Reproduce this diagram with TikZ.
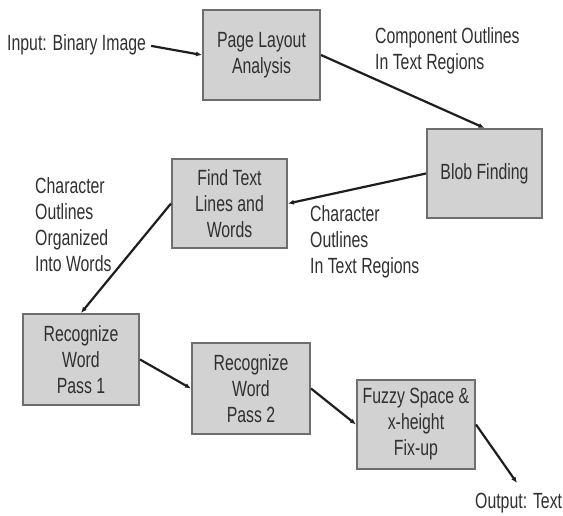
\documentclass[tikz,border=0pt]{standalone}
\usepackage{fontspec}
\setmainfont{Liberation Sans}[FakeStretch=0.72]
\usetikzlibrary{arrows.meta}
\definecolor{boxfill}{HTML}{D2D2D2}
\definecolor{boxline}{HTML}{6E6E6E}
\definecolor{txt}{HTML}{303030}
\definecolor{conn}{HTML}{1E1E1E}
\tikzset{
  stage/.style={rectangle, fill=boxfill, draw=boxline, line width=2pt,
    align=center, text=txt, inner sep=0pt},
  lbl/.style={align=left, text=txt, inner sep=0pt},
  flow/.style={draw=conn, line width=2.2pt, -{Latex[length=6pt,width=5pt]}}
}
\begin{document}
\begin{tikzpicture}[x=1pt,y=-1pt, font=\fontsize{22}{26}\selectfont]
\useasboundingbox (0,0) rectangle (563,515);
% stages
\node[stage, minimum width=117pt, minimum height=90pt] (pla) at (261.5,55) {Page Layout\\Analysis};
\node[stage, minimum width=115pt, minimum height=89pt] (blob) at (484.5,173.5) {Blob Finding};
\node[stage, minimum width=115pt, minimum height=89pt] (find) at (229.5,203.5) {Find Text\\Lines and\\Words};
\node[stage, minimum width=116pt, minimum height=91pt] (rw1) at (81,359.5) {Recognize\\Word\\Pass 1};
\node[stage, minimum width=118pt, minimum height=91pt] (rw2) at (251,388.5) {Recognize\\Word\\Pass 2};
\node[stage, minimum width=118pt, minimum height=89pt] (fuzzy) at (416,424.5) {Fuzzy Space \&\\x-height\\Fix-up};
% labels
\node[lbl, anchor=west] (input) at (7,45) {Input: Binary Image};
\node[lbl, anchor=west] (outlines) at (375,50.5) {Component Outlines\\In Text Regions};
\node[lbl, anchor=west] (charout) at (310,241.5) {Character\\Outlines\\In Text Regions};
\node[lbl, anchor=west] (words) at (35,225) {Character\\Outlines\\Organized\\Into Words};
\node[lbl, anchor=west] (output) at (475,503) {Output: Text};
\coordinate (outend) at (517,483);
% connectors
\draw[flow, shorten <=5pt] (input.east) -- (pla.west);
\draw[flow] (pla.east) -- (blob.north);
\draw[flow] (blob.west) -- (find.east);
\draw[flow] (find.west) -- (rw1.north);
\draw[flow] (rw1.east) -- (rw2.west);
\draw[flow] (rw2.east) -- (fuzzy.west);
\draw[flow] (fuzzy.east) -- (outend);
\end{tikzpicture}
\end{document}
